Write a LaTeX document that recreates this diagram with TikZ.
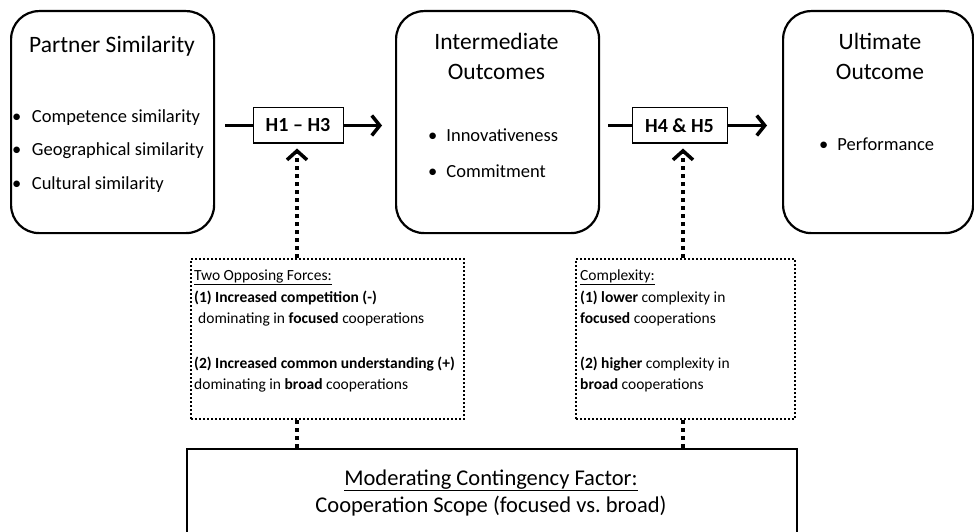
\documentclass[tikz,border=0pt]{standalone}
\usepackage{fontspec}
\setmainfont{Carlito}
\usetikzlibrary{arrows.meta}
\begin{document}
\begin{tikzpicture}[x=1pt,y=-1pt,
  roundbox/.style={draw, line width=2.2pt, rounded corners=28pt, anchor=north west, inner sep=0pt},
  hbox/.style={draw, line width=1pt, inner sep=0pt, minimum height=35pt, font=\fontsize{20}{24}\selectfont\bfseries},
  dotbox/.style={draw, line width=2pt, dash pattern=on 2pt off 2pt, anchor=north west, inner sep=0pt},
  solidbox/.style={draw, line width=2.2pt, anchor=north west, inner sep=0pt},
  title/.style={anchor=base, inner sep=0pt, font=\fontsize{23.5}{28}\selectfont},
  bul/.style={anchor=base west, inner sep=0pt, font=\fontsize{18.5}{22}\selectfont},
  dtxt/.style={anchor=base west, inner sep=0pt, font=\fontsize{15.5}{19}\selectfont},
  btxt/.style={anchor=base, inner sep=0pt, font=\fontsize{22.5}{27}\selectfont},
  thickline/.style={line width=3.5pt},
  thickarrow/.style={line width=3.5pt, -{Straight Barb[length=8pt,width=20pt]}},
  dotline/.style={line width=4pt, dash pattern=on 4pt off 4pt},
  dotarrow/.style={line width=4pt, dash pattern=on 4pt off 4pt, -{Straight Barb[length=9pt,width=20pt,line width=3.5pt]}}
]
\useasboundingbox (0,0) rectangle (974,532);

% main boxes
\node[roundbox, minimum width=203pt, minimum height=222pt] (ps) at (10,10) {};
\node[roundbox, minimum width=203pt, minimum height=222pt] (io) at (395,10) {};
\node[roundbox, minimum width=190pt, minimum height=222pt] (uo) at (782,10) {};

% box texts
\node[title] (pst) at (112,53) {Partner Similarity};
\node[bul] (b1a) at (12,123) {•\hspace{10.5pt}Competence similarity};
\node[bul] (b1b) at (12,156) {•\hspace{10.5pt}Geographical similarity};
\node[bul] (b1c) at (12,189) {•\hspace{10.5pt}Cultural similarity};

\node[title] (iot1) at (496.5,50) {Intermediate};
\node[title] (iot2) at (496.5,80) {Outcomes};
\node[bul] (b2a) at (428,142) {•\hspace{9pt}Innovativeness};
\node[bul] (b2b) at (428,177) {•\hspace{9pt}Commitment};

\node[title] (uot1) at (880,50) {Ultimate};
\node[title] (uot2) at (880,80) {Outcome};
\node[bul] (b3a) at (819,150) {•\hspace{9pt}Performance};

% hypothesis boxes
\node[hbox, minimum width=90pt] (h1) at (298,125.5) {H1 – H3};
\node[hbox, minimum width=95pt] (h4) at (679.5,125.5) {H4 \& H5};

\coordinate (l1) at (225,125.5);
\coordinate (l4) at (608,125.5);
\draw[thickline] (l1) -- (h1.west);
\draw[thickarrow, shorten >=13pt] (h1.east) -- (io.west |- h1.east);
\draw[thickline] (l4) -- (h4.west);
\draw[thickarrow, shorten >=15pt] (h4.east) -- (uo.west |- h4.east);

% dotted boxes
\node[dotbox, minimum width=273pt, minimum height=160pt] (d1) at (190,258) {};
\node[dotbox, minimum width=219pt, minimum height=160pt] (d2) at (575,258) {};

\node[dtxt] (d1a) at (194,280) {\underline{Two Opposing Forces:}};
\node[dtxt] (d1b) at (194,302) {\textbf{(1) Increased competition (-)}};
\node[dtxt] (d1c) at (198,323) {dominating in \textbf{focused} cooperations};
\node[dtxt] (d1d) at (194,368) {\textbf{(2) Increased common understanding (+)}};
\node[dtxt] (d1e) at (194,389) {dominating in \textbf{broad} cooperations};

\node[dtxt] (d2a) at (580,280) {\underline{Complexity:}};
\node[dtxt] (d2b) at (580,302) {\textbf{(1) lower} complexity in};
\node[dtxt] (d2c) at (580,323) {\textbf{focused} cooperations};
\node[dtxt] (d2d) at (580,368) {\textbf{(2) higher} complexity in};
\node[dtxt] (d2e) at (580,389) {\textbf{broad} cooperations};

% bottom box
\node[solidbox, minimum width=610pt, minimum height=100pt] (mc) at (186,448) {};
\node[btxt] (mct1) at (491,485) {\underline{Moderating Contingency Factor:}};
\node[btxt] (mct2) at (491,512) {Cooperation Scope (focused vs.\ broad)};

% dotted connectors
\coordinate (a1) at (297,258);
\coordinate (a4) at (683,258);
\draw[dotarrow, shorten >=5pt] (a1) -- (a1 |- h1.south);
\draw[dotarrow, shorten >=5pt] (a4) -- (a4 |- h4.south);
\draw[dotline] (d1.south -| a1) -- (mc.north -| a1);
\draw[dotline] (d2.south -| a4) -- (mc.north -| a4);
\end{tikzpicture}
\end{document}
